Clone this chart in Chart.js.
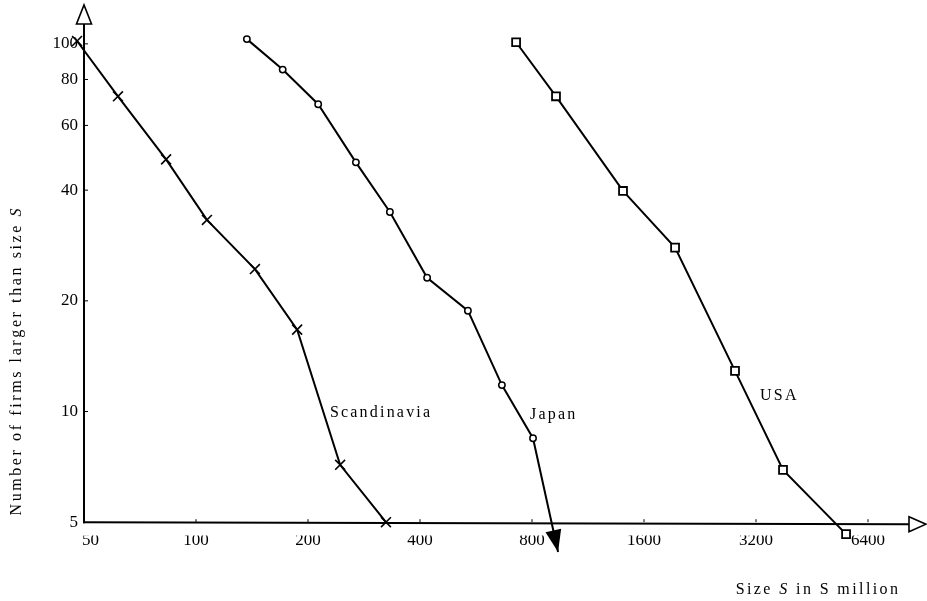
<!DOCTYPE html>
<html><head><meta charset="utf-8">
<script src="https://cdn.jsdelivr.net/npm/chart.js@4"></script>
<style>html,body{margin:0;padding:0;background:#fff}#wrap{width:927px;height:601px}</style>
</head><body><div id="wrap"><canvas id="c" width="927" height="601"></canvas></div>
<script>
// ---- data ----
const xTicks = [50, 100, 200, 400, 800, 1600, 3200, 6400];
const yTicks = [5, 10, 20, 40, 60, 80, 100];
const scandX = [47.9, 61.7, 83.1, 107, 144, 187, 244, 324];
const scandY = [101.8, 72.0, 48.5, 33.2, 24.4, 16.7, 7.16, 5.0];
const japanX = [137, 171, 213, 269, 332, 418, 538, 664, 805, 940];
const japanY = [103, 85.1, 68.5, 47.6, 34.9, 23.1, 18.8, 11.8, 8.46, 4.15];
const usaX = [725, 928, 1405, 1939, 2810, 3782, 5587];
const usaY = [101, 72.0, 39.8, 27.9, 12.9, 6.94, 4.64];
const seriesNames = ['Scandinavia', 'Japan', 'USA'];
const yTitle = [['Number of firms larger than size ', ''], ['S', 'italic ']];
const xTitle = [['Size ', ''], ['S', 'italic '], [' in S million', '']];

const FONT = '"Liberation Serif", "DejaVu Serif", serif';
const pts = (xs, ys) => xs.map((v, i) => ({x: v, y: ys[i]}));

function spacedWidth(ctx, parts, size, sp) {
  let w = 0;
  for (const [t, st] of parts) {
    ctx.font = st + size + 'px ' + FONT;
    for (const ch of t) w += ctx.measureText(ch).width + sp;
  }
  return w - sp;
}
function spacedText(ctx, parts, x, y, size, sp) {
  ctx.textAlign = 'left'; ctx.textBaseline = 'middle';
  for (const [t, st] of parts) {
    ctx.font = st + size + 'px ' + FONT;
    for (const ch of t) { ctx.fillText(ch, x, y); x += ctx.measureText(ch).width + sp; }
  }
}

const deco = {
  id: 'deco',
  beforeDatasetsDraw(chart) {
    const {ctx, scales: {x, y}} = chart;
    const x0 = x.getPixelForValue(xTicks[0]), y0 = y.getPixelForValue(yTicks[0]);
    ctx.save();
    ctx.strokeStyle = '#000'; ctx.lineWidth = 2;
    ctx.beginPath(); ctx.moveTo(x0, y0 + 1); ctx.lineTo(x0, 24); ctx.stroke();
    ctx.beginPath(); ctx.moveTo(x0 - 1, y0); ctx.lineTo(909, y0 + 2); ctx.stroke();
    ctx.lineWidth = 1.6;
    ctx.beginPath(); ctx.moveTo(x0 - 7.5, 24); ctx.lineTo(x0 + 7.5, 24); ctx.lineTo(x0, 5); ctx.closePath(); ctx.stroke();
    ctx.beginPath(); ctx.moveTo(909, y0 + 2 - 7.5); ctx.lineTo(909, y0 + 2 + 7.5); ctx.lineTo(926, y0 + 2); ctx.closePath(); ctx.stroke();
    ctx.lineWidth = 1;
    for (const v of xTicks.slice(1)) { const p = x.getPixelForValue(v); ctx.beginPath(); ctx.moveTo(p, y0); ctx.lineTo(p, y0 - 3); ctx.stroke(); }
    for (const v of yTicks.slice(1)) { const p = y.getPixelForValue(v); ctx.beginPath(); ctx.moveTo(x0, p); ctx.lineTo(x0 + 4, p); ctx.stroke(); }
    ctx.restore();
  },
  afterDatasetsDraw(chart, args, opts) {
    const {ctx, scales: {x, y}} = chart;
    ctx.save();
    ctx.fillStyle = '#000';
    // arrow head at end of Japan line
    const n = japanX.length;
    const ax = x.getPixelForValue(japanX[n - 1]), ay = y.getPixelForValue(japanY[n - 1]);
    const bx = x.getPixelForValue(japanX[n - 2]), by = y.getPixelForValue(japanY[n - 2]);
    const ang = Math.atan2(ay - by, ax - bx);
    ctx.translate(ax, ay); ctx.rotate(ang);
    ctx.beginPath(); ctx.moveTo(0, 0); ctx.lineTo(-22, -8); ctx.lineTo(-22, 8); ctx.closePath(); ctx.fill();
    ctx.setTransform(1, 0, 0, 1, 0, 0);
    // series labels
    seriesNames.forEach((name, i) => {
      const a = opts.anchors[i];
      spacedText(ctx, [[name, '']], x.getPixelForValue(a[0]), y.getPixelForValue(a[1]), 16, 2.2);
    });
    // axis titles
    const wy = spacedWidth(ctx, yTitle, 16, 2.6);
    ctx.translate(17, 362); ctx.rotate(-Math.PI / 2);
    spacedText(ctx, yTitle, -wy / 2, 0, 16, 2.6);
    ctx.setTransform(1, 0, 0, 1, 0, 0);
    const wx = spacedWidth(ctx, xTitle, 16, 2.4);
    spacedText(ctx, xTitle, 898 - wx, 590, 16, 2.4);
    ctx.restore();
  }
};

new Chart(document.getElementById('c'), {
  type: 'line',
  data: {
    datasets: [
      {label: seriesNames[0], data: pts(scandX, scandY), pointStyle: 'crossRot', pointRadius: 7, pointBorderWidth: 1.6},
      {label: seriesNames[1], data: pts(japanX, japanY), pointStyle: 'circle',
        pointRadius: japanX.map((v, i) => i === japanX.length - 1 ? 0 : 3.2), pointBorderWidth: 1.5},
      {label: seriesNames[2], data: pts(usaX, usaY), pointStyle: 'rect', pointRadius: 5.6, pointBorderWidth: 1.8}
    ].map(d => Object.assign({
      borderColor: '#000', backgroundColor: '#fff', pointBackgroundColor: '#fff', pointBorderColor: '#000',
      borderWidth: 2, tension: 0, clip: false, fill: false
    }, d))
  },
  options: {
    responsive: false, animation: false, events: [],
    layout: {padding: {left: 0, right: 22, top: 10, bottom: 0}},
    plugins: {legend: {display: false}, tooltip: {enabled: false},
      deco: {anchors: [[229, 9.94], [790, 9.8], [3281, 11]]}},
    scales: {
      x: {type: 'logarithmic', min: 50, max: 8046, bounds: 'data',
        grid: {display: false, drawTicks: false}, border: {display: false},
        afterBuildTicks: s => { s.ticks = xTicks.map(v => ({value: v})); },
        afterFit: s => { s.height = 65.5; },
        ticks: {autoSkip: false, maxRotation: 0, padding: -5.5, color: '#000',
          font: {family: FONT, size: 17}, callback: v => (v === 50 ? '   ' : '') + String(v)}},
      y: {type: 'logarithmic', min: 4.6, max: 118.9, bounds: 'data',
        grid: {display: false, drawTicks: false}, border: {display: false},
        afterBuildTicks: s => { s.ticks = yTicks.map(v => ({value: v})); },
        afterFit: s => { s.width = 84; },
        ticks: {autoSkip: false, padding: 6, color: '#000',
          font: {family: FONT, size: 17}, callback: v => String(v)}}
    }
  },
  plugins: [deco]
});
</script>
</body></html>
